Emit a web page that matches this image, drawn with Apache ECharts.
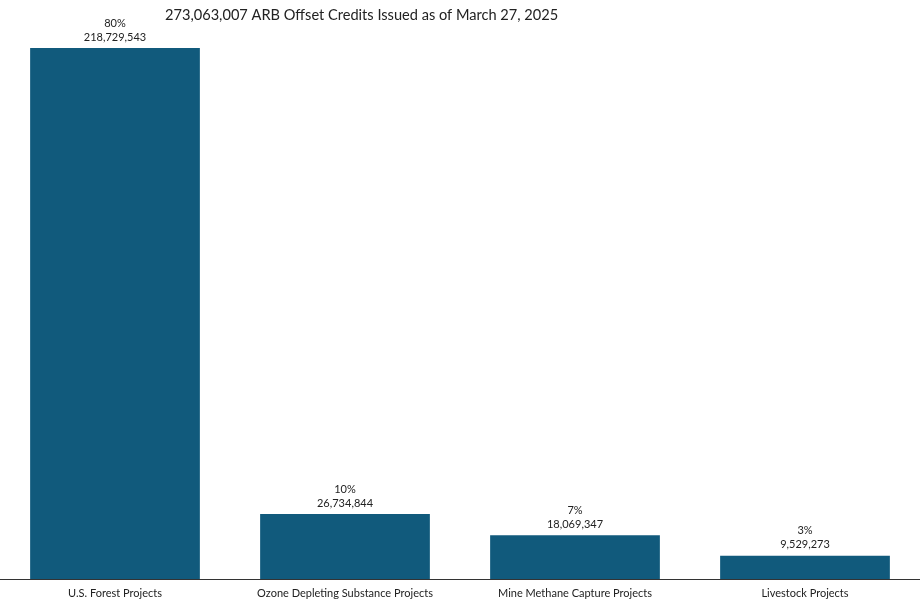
<!DOCTYPE html>
<html>
<head>
<meta charset="utf-8">
<script src="https://cdn.jsdelivr.net/npm/echarts@6/dist/echarts.min.js"></script>
<style>html,body{margin:0;padding:0;background:#fff}#chart{width:920px;height:606px}</style>
</head>
<body>
<div id="chart"></div>
<script>
const categories = ['U.S. Forest Projects', 'Ozone Depleting Substance Projects', 'Mine Methane Capture Projects', 'Livestock Projects'];
const credits = [218729543, 26734844, 18069347, 9529273];
const shares = ['80%', '10%', '7%', '3%'];

const chart = echarts.init(document.getElementById('chart'));
chart.setOption({
  animation: false,
  title: {
    text: '273,063,007 ARB Offset Credits Issued as of March 27, 2025',
    left: 160, top: 3,
    textStyle: { fontFamily: 'Lato', fontSize: 14.6, fontWeight: 'normal', color: '#222' }
  },
  grid: { left: -12, right: -1, top: 48, bottom: 27 },
  xAxis: {
    type: 'category', data: categories,
    axisLine: { lineStyle: { color: '#333' } },
    axisTick: { show: false },
    axisLabel: { fontFamily: 'Lato', fontSize: 11, color: '#222', margin: 9 }
  },
  yAxis: { type: 'value', min: 0, max: credits[0], show: false, splitLine: { show: false } },
  series: [{
    type: 'bar', barWidth: '73.8%',
    data: credits,
    itemStyle: { color: '#115a7c' },
    label: {
      show: true, position: 'top', distance: 4,
      fontFamily: 'Lato', fontSize: 11, color: '#222', lineHeight: 14, align: 'center',
      formatter: p => shares[p.dataIndex] + '\n' + p.value.toLocaleString('en-US')
    }
  }]
});
</script>
</body>
</html>
